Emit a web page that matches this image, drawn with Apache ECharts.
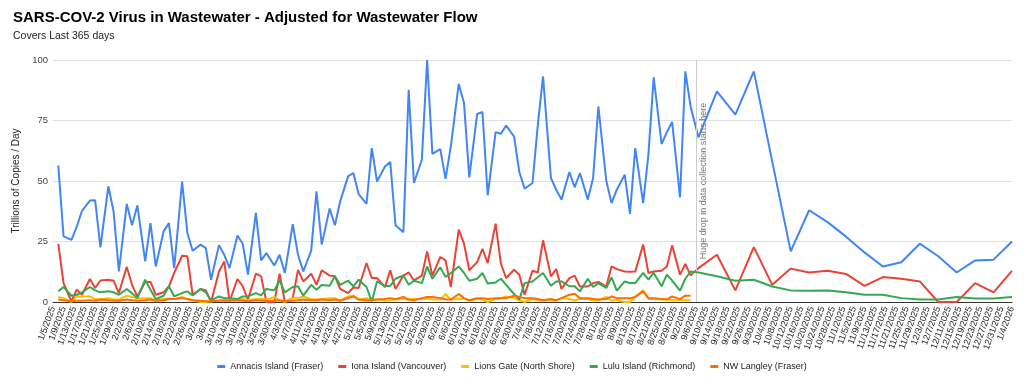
<!DOCTYPE html>
<html>
<head>
<meta charset="utf-8">
<script src="https://cdn.jsdelivr.net/npm/echarts@6/dist/echarts.min.js"></script>
<style>
html,body{margin:0;padding:0;background:#fff;}
#chart{width:1024px;height:385px;}
</style>
</head>
<body>
<div id="chart"></div>
<script>
// Axis origin: day 0 = 1/5/2025 ; samples given as days since that date
const startDate = [2025, 1, 5];
const tickStepDays = 4;
const axisEndDay = 364;
const yTicks = [0, 25, 50, 75, 100];

const sampleDay = [
  2,4,7,9,11,14,16,18,21,23,25,28,
  30,32,35,37,39,42,44,46,49,51,53,56,
  58,60,63,65,67,70,72,74,77,79,81,84,
  86,88,91,93,95,98,100,102,105,107,109,112,
  114,116,119,121,123,126,128,130,133,135,137,140,
  142,144,147,149,151,154,156,158,161,163,165,168,
  170,172,175,177,179,182,184,186,189,191,193,196,
  198,200,203,205,207,210,212,214,217,219,221,224,
  226,228,231,233,235,238,240,242,245,
  252,259,266,273,280,287,294,301,308,315,322,329,
  336,343,350,357,364
];

const annacis = [
  56.4,27.1,25.7,31,37.7,41.9,42.0,22.6,47.8,37.4,12.6,40.5,
  31.7,39.9,16.8,32.6,14.7,29.2,32.6,14.0,49.8,28.5,21.2,23.7,
  22.3,9.2,23.5,19.5,14.0,27.5,24.1,11.3,36.8,17.2,20.2,15.1,
  19.5,12.0,32.2,19.5,12.6,21.2,45.7,23.7,38.6,31.7,41.6,51.9,
  53.3,44.6,40.5,63.6,49.8,56.0,57.9,31.7,28.8,87.7,49.2,58.8,
  100,61.2,63.2,50.9,64.3,90.1,82.2,51.5,77.7,78.5,44.1,70.2,
  69.5,72.9,68.4,53.7,46.8,49.2,73,93.2,51.2,46.4,42.3,53.7,
  47.4,53.3,42.3,51.2,80.8,50.1,40.9,46.4,52.6,36.4,63.6,40.9,
  60.9,92.8,65.3,70.2,74.4,43.2,95.3,80.8,68.0,
  87.0,77.4,95.3,58,20.9,37.9,33,27,20.5,14.7,16.4,24.1,
  18.9,12.2,17.2,17.5,25.0
];

const iona = [
  24,7.8,0.2,5.1,3,9.5,5.8,8.9,9.2,8.8,3.7,14.5,
  7.1,2.3,8.3,8.3,3,4.0,6.5,12,19.1,18.9,3.0,5.4,
  4.8,0,12.6,16.8,0.2,9.5,6.5,1.0,11.7,10.6,0,0,
  11.7,0,1.6,13.3,8.5,11.7,7.1,13.1,10.9,10.6,5.4,3.7,
  6.0,5.8,16.1,9.9,9.9,6.2,13.1,5.4,10.9,12.2,8.9,10.9,
  20.9,10.9,18.6,17.2,6.2,29.9,24.1,13.1,16.5,22.0,16.1,32.4,
  15.8,9.9,13.3,11.3,3.0,12.9,12.2,25.5,10.6,13.6,5.4,9.9,
  10.9,6.4,6.4,7.8,8.3,6.4,14.7,13.6,12.6,12.5,12.6,23.7,
  12.0,12.6,12.9,14.7,23.4,11.3,15.7,11.0,14.0,
  19.5,4.8,22.7,7.1,13.8,12.2,12.9,11.6,6.7,10.3,9.6,8.5,
  0,0,7.8,4.0,12.9
];

const lionsGate = [
  2.1,1.6,0,2.3,2.3,2.3,1.2,1.0,1.6,1.0,1.0,2.6,
  2.1,1.4,1.6,1.6,0.7,1.2,1.5,1.2,2.1,1.2,0.7,0,
  0,0.3,0.7,1.0,0.7,1.2,1.2,0.7,1.2,1.2,1.0,2.1,
  0.7,0,1.6,1.6,2.3,1.2,1.0,1.2,1.6,1.6,0.7,2.3,
  2.7,1.0,1.6,1.0,1.0,0.5,0.7,1.0,1.2,1.0,1.2,1.2,
  1.2,1.0,1.0,3.3,1.0,1.2,1.2,0.7,1.2,1.0,0,1.2,
  1.6,2.3,1.6,0.7,0,1.2,0.7,0.7,0.7,0.7,1.6,1.2,
  0.7,1.2,1.2,0.7,0.7,2.1,0.7,0.7,0,0,2.1,4.8,
  1.2,1.2,1.0,1.0,0.7,0.7,0.7,0.7,null,
  null,null,null,null,null,null,null,null,null,null,null,null,
  null,null,null,null,null
];

const lulu = [
  4.4,6.2,2.6,3.0,4.0,6.2,4.8,4.0,4.4,4.0,3.0,5.4,
  3.6,1.6,9.2,5.1,1.2,2.6,6.5,2.3,3.7,4.4,2.7,5.4,
  4.0,0.7,2.3,1.6,1.6,1.2,2.3,2.3,3.7,2.7,5.4,4.8,
  8.9,4.0,6.2,6.5,2.6,7.1,5.1,7.0,6.7,10.6,7.1,8.8,
  6.5,9.2,6.2,0.2,8.5,6.5,6.7,9.6,11.0,7.1,8.8,7.8,
  14.7,9.6,14.3,10.3,12.0,14.7,12.0,8.8,9.6,12.0,7.6,8.1,
  9.6,7.1,3.3,1.0,7.8,8.5,10.2,12.0,6.7,8.5,8.5,6.5,
  6.5,4.4,9.6,6.2,7.8,5.8,10.2,4.7,8.5,7.8,7.8,12.0,
  9.2,12.0,6.5,11.3,8.8,4.7,9.6,12.6,12.2,
  10.6,8.8,9.2,6.4,4.8,4.7,4.8,4.0,3.0,3.0,1.6,1.0,
  1.0,2.1,1.4,1.4,2.1
];

const nwLangley = [
  1.0,0.7,0.3,0.5,0.5,0.7,0.5,1.0,0.7,0.5,0.5,1.0,
  0.7,0.5,0.7,1.0,0.5,0.7,1.2,1.2,1.6,1.2,0.7,0.5,
  0.3,0.3,0.5,0.5,0.5,0.7,0.5,0.3,0.7,0.5,0.5,0.5,
  0.7,0.3,0.5,0.7,1.0,0.7,0.7,1.0,0.7,1.0,0.5,1.6,
  2.3,1.0,0.7,0.7,1.0,1.2,1.6,1.2,2.1,1.0,0.7,1.6,
  2.1,2.1,1.6,1.0,1.0,3.3,1.6,0.7,1.6,1.6,1.2,1.6,
  1.6,1.6,2.6,2.1,1.6,1.6,1.2,0.7,1.2,0.7,1.6,3.0,
  3.4,1.6,1.6,1.2,1.0,1.2,2.3,1.6,1.6,1.6,2.1,4.4,
  1.6,1.6,1.2,1.0,2.3,1.2,2.6,2.6,null,
  null,null,null,null,null,null,null,null,null,null,null,null,
  null,null,null,null,null
];

const seriesNames = [
  'Annacis Island (Fraser)',
  'Iona Island (Vancouver)',
  'Lions Gate (North Shore)',
  'Lulu Island (Richmond)',
  'NW Langley (Fraser)'
];
const seriesColors = ['#4285F4', '#EA4335', '#FBBC04', '#34A853', '#FF6D01'];
const annotationDay = 244;
const annotationText = 'Huge drop in data collection starts here';

function dayToLabel(d) {
  const dt = new Date(Date.UTC(startDate[0], startDate[1] - 1, startDate[2] + d));
  return (dt.getUTCMonth() + 1) + '/' + dt.getUTCDate() + '/' + dt.getUTCFullYear();
}
const xTickLabels = {};
for (let d = 0; d <= axisEndDay; d += tickStepDays) xTickLabels[d] = dayToLabel(d);

const FONT = '"Liberation Sans", Arial, sans-serif';
const values = [annacis, iona, lionsGate, lulu, nwLangley];

const series = values.map((vals, i) => {
  const s = {
    name: seriesNames[i],
    type: 'line',
    data: sampleDay.map((d, k) => [d, vals[k]]),
    showSymbol: false,
    symbol: 'none',
    connectNulls: false,
    lineStyle: { width: 2, color: seriesColors[i] },
    itemStyle: { color: seriesColors[i] },
    clip: false,
    z: 2 + i
  };
  if (i === 0) {
    s.markLine = {
      silent: true,
      symbol: 'none',
      data: [{ xAxis: annotationDay }],
      lineStyle: { color: '#cccccc', width: 1, type: 'solid' },
      label: {
        show: true,
        formatter: annotationText,
        position: 'insideMiddleBottom',
        color: '#757575',
        fontSize: 9,
        fontFamily: FONT,
        distance: 3
      }
    };
  }
  return s;
});

const chart = echarts.init(document.getElementById('chart'), null, { renderer: 'canvas' });
chart.setOption({
  backgroundColor: '#ffffff',
  animation: false,
  textStyle: { fontFamily: FONT },
  title: {
    text: 'SARS-COV-2 Virus in Wastewater - Adjusted for Wastewater Flow',
    subtext: 'Covers Last 365 days',
    left: 8,
    top: 5,
    itemGap: 6,
    textStyle: { fontFamily: FONT, fontSize: 15, fontWeight: 'bold', color: '#000' },
    subtextStyle: { fontFamily: FONT, fontSize: 10.5, color: '#222' }
  },
  legend: {
    bottom: 9,
    left: 'center',
    icon: 'rect',
    itemWidth: 8,
    itemHeight: 3,
    itemGap: 15,
    textStyle: { fontFamily: FONT, fontSize: 9, color: '#222' },
    data: seriesNames
  },
  grid: { left: 53, right: 12, top: 60, bottom: 83, containLabel: false },
  xAxis: {
    type: 'value',
    min: 0,
    max: axisEndDay,
    interval: tickStepDays,
    axisLine: { show: true, lineStyle: { color: '#333', width: 1 } },
    axisTick: { show: false },
    splitLine: { show: false },
    axisLabel: {
      rotate: 70,
      fontSize: 9,
      color: '#222',
      margin: 5,
      fontFamily: FONT,
      showMinLabel: true,
      showMaxLabel: true,
      hideOverlap: false,
      interval: 0,
      formatter: v => xTickLabels[v] !== undefined ? xTickLabels[v] : ''
    }
  },
  yAxis: {
    type: 'value',
    min: yTicks[0],
    max: yTicks[yTicks.length - 1],
    interval: 25,
    name: 'Trillions of Copies / Day',
    nameLocation: 'middle',
    nameGap: 28,
    nameTextStyle: { fontFamily: FONT, fontSize: 10, color: '#222' },
    axisLine: { show: false },
    axisTick: { show: false },
    axisLabel: { fontSize: 9.5, color: '#444', margin: 5, fontFamily: FONT },
    splitLine: { lineStyle: { color: '#e0e0e0', width: 1 } }
  },
  series: series
});
</script>
</body>
</html>
